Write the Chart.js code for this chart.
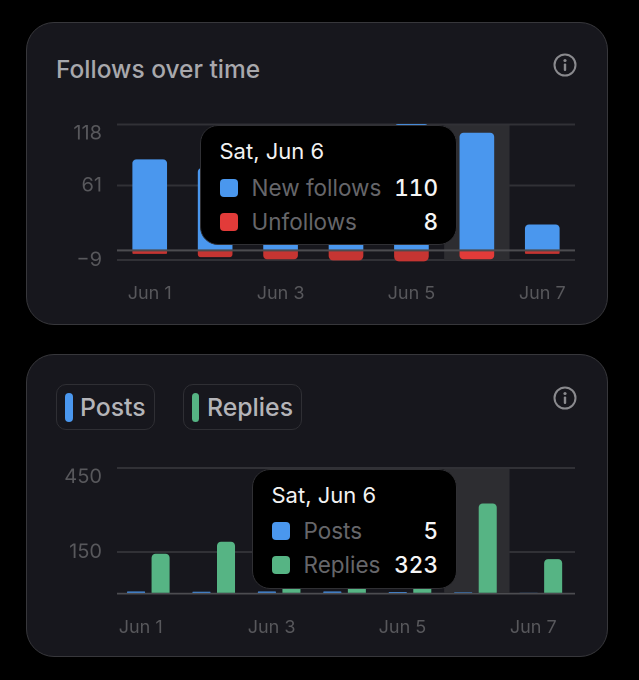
<!DOCTYPE html>
<html><head><meta charset="utf-8">
<script src="https://cdn.jsdelivr.net/npm/chart.js@4"></script>
<style>
html,body{margin:0;padding:0;background:#000;width:639px;height:680px;overflow:hidden}
body{font-family:Inter,"Noto Sans",sans-serif;position:relative}
.card{position:absolute;left:26px;width:580px;height:301px;background:#17171d;border:1px solid #37373b;border-radius:28px;box-sizing:content-box}
.abs{position:absolute;white-space:nowrap}
canvas{position:absolute;left:30px}
.title{left:56px;top:54px;font-size:24.5px;line-height:30px;font-weight:500;color:#a8a8ac}
.chip{height:44px;border:1px solid #2f2f34;border-radius:10px;box-sizing:content-box;top:384px}
.sw{width:7.5px;height:29px;border-radius:4px;top:393px}
.chiplabel{top:391px;font-size:24.8px;line-height:32px;font-weight:500;color:#b4b4b8}
.tip{background:#000;border:1px solid #303034;border-radius:18px;box-sizing:border-box;height:120px}
.tip .t{position:absolute;top:10px;font-size:22px;line-height:30px;color:#f2f2f2;white-space:nowrap}
.tip .s{position:absolute;width:18px;height:18px;border-radius:4px}
.tip .l{position:absolute;font-size:22.5px;line-height:30px;color:#66666a;white-space:nowrap}
.tip .v{position:absolute;right:18px;font-size:22.5px;line-height:30px;font-weight:500;color:#f6f6f6;white-space:nowrap;font-variant-numeric:tabular-nums;font-feature-settings:"tnum"}
svg{position:absolute}
</style></head><body>
<div class="card" style="top:22px"></div>
<div class="card" style="top:354px"></div>
<div class="abs title">Follows over time</div>
<svg style="left:552px;top:52px" width="26" height="26" viewBox="0 0 26 26"><circle cx="13" cy="13" r="10.5" fill="none" stroke="#8a8a8e" stroke-width="2"/><circle cx="13" cy="8.5" r="1.6" fill="#8a8a8e"/><rect x="11.8" y="11.5" width="2.4" height="7.5" rx="1" fill="#8a8a8e"/></svg>
<svg style="left:552px;top:385px" width="26" height="26" viewBox="0 0 26 26"><circle cx="13" cy="13" r="10.5" fill="none" stroke="#8a8a8e" stroke-width="2"/><circle cx="13" cy="8.5" r="1.6" fill="#8a8a8e"/><rect x="11.8" y="11.5" width="2.4" height="7.5" rx="1" fill="#8a8a8e"/></svg>
<div class="abs chip" style="left:56px;width:97px"></div>
<div class="abs sw" style="left:65px;background:#4a97ee"></div>
<div class="abs chiplabel" style="left:80px">Posts</div>
<div class="abs chip" style="left:183px;width:117px"></div>
<div class="abs sw" style="left:191.5px;background:#56b484"></div>
<div class="abs chiplabel" style="left:207px">Replies</div>
<canvas id="c1" width="560" height="200" style="top:110px"></canvas>
<canvas id="c2" width="560" height="200" style="top:440px"></canvas>
<script>
const days = ['Jun 1','Jun 2','Jun 3','Jun 4','Jun 5','Jun 6','Jun 7'];
const hoverTitle = 'Sat, Jun 6';
const hoverIndex = 5;
const newFollows = [85, 77, 62, 70, 118, 110, 24];
const unfollows = [-3, -6, -8, -9, -10, -8, -3];
const posts = [8, 7, 8, 8, 6, 5, 3];
const replies = [143, 186, 60, 50, 40, 323, 124];
const followTicks = [-9, 0, 61, 118];
const postTicks = [0, 150, 450];

const BLUE='#4a97ee', RED='#e23b39', REDDIM='#c63532', GREEN='#56b484';
const redColors = days.map((d,i)=> i===hoverIndex ? RED : REDDIM);

const overlay = {
  id:'overlay',
  beforeDatasetsDraw(chart){
    const {ctx,scales:{x,y},chartArea:a} = chart;
    const step = x.getPixelForValue(1)-x.getPixelForValue(0);
    const cx = x.getPixelForValue(hoverIndex);
    ctx.save();
    ctx.fillStyle='#2d2d31';
    ctx.fillRect(cx-step/2, a.top+1, step, a.bottom-a.top-1);
    ctx.restore();
    ctx.save();
    if(chart.canvas.id==='c2') ctx.translate(-1.4,0);
  },
  afterDatasetsDraw(chart){
    const {ctx,scales:{y},chartArea:a} = chart;
    ctx.restore();
    const py = y.getPixelForValue(0);
    ctx.save();
    ctx.strokeStyle='#4c4c50';
    ctx.lineWidth=chart.canvas.id==='c1'?2:1.5;
    ctx.beginPath();ctx.moveTo(a.left,py);ctx.lineTo(a.right,py);ctx.stroke();
    ctx.restore();
  }
};

function external(cfg){
  return function({chart,tooltip}){
    if(document.getElementById(cfg.id)) return;
    if(!tooltip.dataPoints||!tooltip.dataPoints.length) return;
    const el=document.createElement('div');
    el.id=cfg.id; el.className='abs tip';
    el.style.left=cfg.left+'px'; el.style.top=cfg.top+'px'; el.style.width=cfg.width+'px';
    const t=document.createElement('div');t.className='t';t.style.left=cfg.pad+'px';t.textContent=hoverTitle;el.appendChild(t);
    tooltip.dataPoints.forEach((p,i)=>{
      const top=cfg.rows[i];
      const s=document.createElement('div');s.className='s';s.style.left=cfg.pad+'px';s.style.top=(top+6)+'px';s.style.background=p.dataset.tipColor;el.appendChild(s);
      const l=document.createElement('div');l.className='l';l.style.left=(cfg.pad+32)+'px';l.style.top=top+'px';l.textContent=p.dataset.label;el.appendChild(l);
      const v=document.createElement('div');v.className='v';v.style.top=top+'px';v.textContent=String(Math.abs(p.raw));el.appendChild(v);
    });
    document.body.appendChild(el);
  };
}

function makeOptions(o){
  return {
    responsive:false,animation:false,events:[],devicePixelRatio:2,
    layout:{padding:{top:o.padTop,right:15,left:0,bottom:0}},
    plugins:{legend:{display:false},tooltip:{enabled:false,external:external(o.tip)}},
    scales:{
      x:{stacked:o.stacked,
        grid:{display:false},border:{display:false},
        afterFit(s){s.height=o.xH;},
        ticks:{autoSkip:false,maxRotation:0,minRotation:0,color:'#58585c',font:{family:'Inter',size:18},padding:o.xPad,labelOffset:o.labelOffset,
          callback(v,i){return i%2===0?days[i]:'';}}
      },
      y:{stacked:o.stacked,min:o.ticks[0],max:o.ticks[o.ticks.length-1],
        border:{display:false},
        grid:{color:'#313136',lineWidth:2,drawTicks:false},
        afterFit(s){s.width=87;s.paddingTop=0;s.paddingBottom=0;},
        afterBuildTicks(s){s.ticks=o.ticks.map(v=>({value:v}));},
        ticks:{color:'#58585c',padding:15,font:{family:'Inter',size:20,lineHeight:18/20},
          callback(v){
            if(v===0) return '';
            const text=v<0?'\u2212'+Math.abs(v):String(v);
            return v===o.ticks[o.ticks.length-1]?['',text]:text;
          }}
      }
    }
  };
}

const c1=new Chart(document.getElementById('c1'),{
  type:'bar',
  data:{labels:days,datasets:[
    {label:'New follows',data:newFollows,backgroundColor:BLUE,tipColor:BLUE,barThickness:34,borderRadius:4,clip:false},
    {label:'Unfollows',data:unfollows,backgroundColor:redColors,tipColor:RED,barThickness:34,borderRadius:6,clip:false}
  ]},
  options:makeOptions({stacked:true,padTop:14.5,xH:50,xPad:15,labelOffset:0,ticks:followTicks,
    tip:{id:'tip1',left:200,top:125,width:257,pad:18.5,rows:[47,81]}}),
  plugins:[overlay]
});
c1.tooltip.setActiveElements([{datasetIndex:0,index:hoverIndex},{datasetIndex:1,index:hoverIndex}],{x:0,y:0});

const c2=new Chart(document.getElementById('c2'),{
  type:'bar',
  data:{labels:days,datasets:[
    {label:'Posts',data:posts,backgroundColor:BLUE,tipColor:BLUE,borderRadius:2,categoryPercentage:0.75,barPercentage:0.735},
    {label:'Replies',data:replies,backgroundColor:GREEN,tipColor:GREEN,borderRadius:4,categoryPercentage:0.75,barPercentage:0.735}
  ]},
  options:makeOptions({stacked:false,padTop:28,xH:46.3,xPad:15,labelOffset:-9,ticks:postTicks,
    tip:{id:'tip2',left:252,top:469,width:205,pad:18.5,rows:[46,80]}}),
  plugins:[overlay]
});
c2.tooltip.setActiveElements([{datasetIndex:0,index:hoverIndex},{datasetIndex:1,index:hoverIndex}],{x:0,y:0});
</script>
</body></html>
